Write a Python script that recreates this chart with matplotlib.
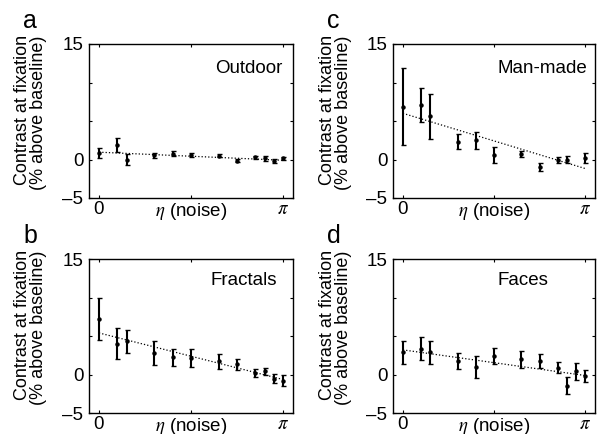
import numpy as np
import matplotlib.pyplot as plt

plt.rcParams['font.family'] = ['Liberation Sans', 'DejaVu Sans']
plt.rcParams['mathtext.fontset'] = 'stix'

# noise levels, in units of pi
x_all = [0, 0.1, 0.15, 0.3, 0.4, 0.5, 0.65, 0.75, 0.85, 0.9, 0.95, 1.0]
x_manmade = [0, 0.1, 0.15, 0.3, 0.4, 0.5, 0.65, 0.75, 0.85, 0.9, 1.0]

outdoor_y = [0.78, 1.87, 0.0, 0.52, 0.74, 0.6, 0.48, -0.13, 0.26, 0.17, -0.2, 0.13]
outdoor_err = [0.65, 0.87, 0.65, 0.3, 0.35, 0.3, 0.2, 0.2, 0.2, 0.3, 0.3, 0.2]
outdoor_fit = [0.95, -0.1]

manmade_y = [6.83, 7.04, 5.6, 2.3, 2.5, 0.6, 0.74, -0.96, -0.1, 0.0, 0.2]
manmade_err = [5.0, 2.2, 2.9, 1.0, 1.1, 1.0, 0.4, 0.5, 0.4, 0.4, 0.7]
manmade_fit = [6.0, -1.17]

fractals_y = [7.2, 4.0, 4.3, 2.8, 2.25, 2.16, 1.7, 1.3, 0.22, 0.4, -0.56, -0.78]
fractals_err = [2.7, 2.0, 1.5, 1.6, 1.1, 1.2, 1.0, 0.7, 0.5, 0.4, 0.6, 0.7]
fractals_fit = [5.4, -0.65]

faces_y = [2.9, 3.33, 2.9, 1.8, 0.95, 2.35, 1.95, 1.7, 0.87, -1.43, 0.4, -0.2]
faces_err = [1.5, 1.5, 1.5, 1.05, 1.4, 1.05, 1.1, 0.9, 0.7, 1.1, 1.1, 0.75]
faces_fit = [3.2, -0.13]

panels = [
    ('a', 'Outdoor', x_all, outdoor_y, outdoor_err, outdoor_fit),
    ('c', 'Man-made', x_manmade, manmade_y, manmade_err, manmade_fit),
    ('b', 'Fractals', x_all, fractals_y, fractals_err, fractals_fit),
    ('d', 'Faces', x_all, faces_y, faces_err, faces_fit),
]

# axes boxes in pixels: left, top, right, bottom
boxes = [(89, 44, 293, 198), (393, 44, 595, 198),
         (89, 259, 293, 413), (393, 259, 595, 413)]
# where the category name sits (axes fraction, right edge)
name_pos = [(0.95, 0.84), (0.96, 0.84), (0.92, 0.86), (0.77, 0.86)]

W, H = 600, 434
fig = plt.figure(figsize=(6, 4.34), dpi=100)

for (letter, name, xs, ys, errs, fit), (l, t, r, b), (nx, ny) in zip(panels, boxes, name_pos):
    ax = fig.add_axes([l / W, 1 - b / H, (r - l) / W, (b - t) / H])
    xx = np.array(xs) * np.pi
    ax.plot([0, np.pi], fit, ':', color='black', lw=0.9)
    ax.errorbar(xx, ys, yerr=errs, fmt='o', color='black', ms=2.2,
                elinewidth=1.5, capsize=1.8, capthick=1.0)
    ax.set_xlim(-0.17, np.pi + 0.17)
    ax.set_ylim(-5, 15)
    ax.set_yticks([-5, 0, 5, 10, 15])
    ax.set_yticklabels(['\u20135', '0', '', '', '15'])
    ax.set_xticks([0, np.pi / 2, np.pi])
    ax.set_xticklabels(['0', r'$\eta$ (noise)', r'$\pi$'])
    ax.tick_params(direction='in', length=2, width=0.8, top=True, right=True,
                   labelsize=13.5)
    ax.tick_params(axis='x', pad=2)
    ax.tick_params(axis='y', pad=4)
    for s in ax.spines.values():
        s.set_linewidth(1.0)
    ax.set_ylabel('Contrast at fixation\n(% above baseline)', fontsize=13,
                  linespacing=0.9, multialignment='right')
    ax.yaxis.set_label_coords(-0.205, 0.555)
    ax.text(nx, ny, name, transform=ax.transAxes, ha='right',
            va='center', fontsize=13.5)
    fig.text((l - 66) / W, 1 - (t - 16) / H, letter, fontsize=18,
             ha='left', va='baseline')

fig.savefig('out.png', dpi=100)
